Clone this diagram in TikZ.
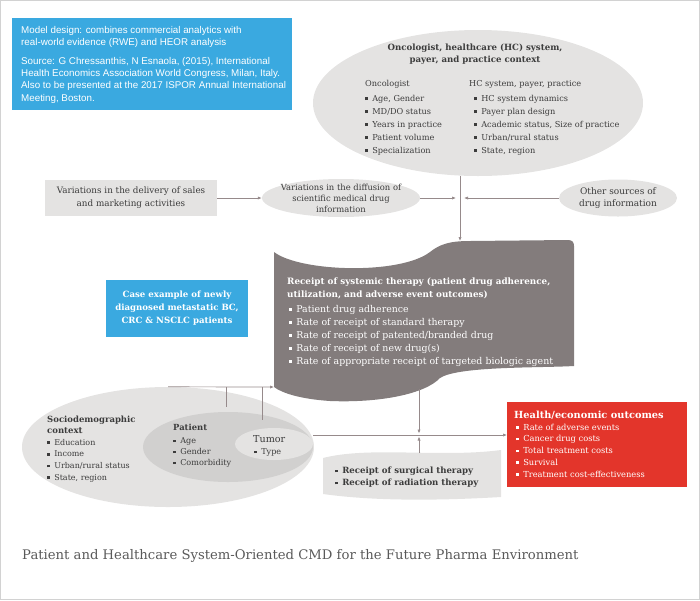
\documentclass[tikz,border=0pt]{standalone}
\usepackage{fontspec}
\setmainfont{DejaVu Serif}
\newfontfamily\notefont{Liberation Sans}
\usetikzlibrary{shapes.geometric,arrows.meta}

\definecolor{cmdblue}{RGB}{58,169,224}
\definecolor{cmdlight}{RGB}{228,227,226}
\definecolor{cmdmid}{RGB}{209,208,207}
\definecolor{cmddark}{RGB}{131,124,124}
\definecolor{cmdred}{RGB}{227,53,43}
\definecolor{cmdline}{RGB}{150,138,139}
\definecolor{cmdtext}{RGB}{60,60,60}
\definecolor{cmdborder}{RGB}{210,210,210}

\newcommand{\bsq}{\raisebox{1.4pt}{\rule{2.6pt}{2.6pt}}\hspace{4.5pt}}
\newcommand{\fsz}[2]{\fontsize{#1}{#2}\selectfont}

\tikzstyle{bluebox}=[fill=cmdblue,text=white,inner sep=0pt]
\tikzstyle{oval}=[ellipse,fill=cmdlight,inner sep=0pt]
\tikzstyle{txt}=[inner sep=0pt,align=left,text=cmdtext]
\tikzstyle{conn}=[draw=cmdline,line width=0.7pt,-{Latex[length=4pt,width=3.2pt]}]
\tikzstyle{link}=[draw=cmdline,line width=0.7pt]

\begin{document}
\begin{tikzpicture}[x=1pt,y=-1pt]
\useasboundingbox (0,0) rectangle (700,600);
\draw[cmdborder,line width=1pt] (0.5,0.5) rectangle (699.5,599.5);

% Model design note
   \node[bluebox,minimum width=280pt,minimum height=92pt,anchor=north west] (note) at (12,18) {};
   \node[txt,text=white,anchor=north west,font=\notefont\fsz{9.8}{12.4}] (notetxt) at (21,26)
{Model design: combines commercial analytics with\\ real-world evidence (RWE) and HEOR analysis\\[6pt]
Source: G Chressanthis, N Esnaola, (2015), International\\ Health Economics Association World Congress, Milan, Italy.\\
Also to be presented at the 2017 ISPOR Annual International\\ Meeting, Boston.};

% Oncologist / HC context
   \node[oval,minimum width=330pt,minimum height=146pt] (ctx) at (478,103) {};
   \node[txt,align=center,font=\bfseries\fsz{8.6}{12}] (ctxttl) at (475,54)
{Oncologist, healthcare (HC) system,\\ payer, and practice context};
   \node[txt,anchor=north west,font=\fsz{8.2}{13}] (onc) at (365,80) {Oncologist};
   \node[txt,anchor=north west,font=\fsz{8.2}{13}] (oncl) at (365,95)
{\bsq Age, Gender\\ \bsq MD/DO status\\ \bsq Years in practice\\ \bsq Patient volume\\ \bsq Specialization};
   \node[txt,anchor=north west,font=\fsz{8.2}{13}] (hcs) at (469,80) {HC system, payer, practice};
   \node[txt,anchor=north west,font=\fsz{8.2}{13}] (hcsl) at (474,95)
{\bsq HC system dynamics\\ \bsq Payer plan design\\ \bsq Academic status, Size of practice\\ \bsq Urban/rural status\\ \bsq State, region};

% Drug information sources
   \node[fill=cmdlight,minimum width=172pt,minimum height=36pt,inner sep=0pt,align=center,
text=cmdtext,font=\fsz{8.8}{13}] (sales) at (131,198)
{Variations in the delivery of sales\\ and marketing activities};
   \node[oval,minimum width=158pt,minimum height=38pt] (diff) at (341,198) {};
   \node[txt,align=center,font=\fsz{8.4}{11}] (difftxt) at (diff.center)
{Variations in the diffusion of\\ scientific medical drug\\ information};
   \node[oval,minimum width=118pt,minimum height=37pt] (other) at (618,198) {};
   \node[txt,align=center,font=\fsz{9}{12.5}] (othertxt) at (other.center)
{Other sources of\\ drug information};

   \coordinate (jn) at (460,198);
   \coordinate (jnl) at (456,198);
   \coordinate (jnr) at (464,198);

% Receipt of systemic therapy
   \fill[cmddark] (274,252) .. controls (300,272) and (400,275) .. (430,252)
.. controls (440,244) and (450,241) .. (470,241) -- (568,240)
.. controls (572,240) and (574,242) .. (574,246) -- (574,366)
.. controls (540,368) and (458,366) .. (440,378)
.. controls (425,394) and (380,403) .. (330,401)
.. controls (300,399) and (282,393) .. (274,387) -- cycle;
   \coordinate (rtop) at (460,241);
   \coordinate (rin) at (274,387);
   \coordinate (rbot) at (419,389);
   \node[txt,text=white,anchor=north west,font=\bfseries\fsz{8.8}{12.5}] (rst) at (287,278)
{Receipt of systemic therapy (patient drug adherence,\\ utilization, and adverse event outcomes)};
   \node[txt,text=white,anchor=north west,font=\fsz{9.4}{13}] (rstl) at (289,305)
{\bsq Patient drug adherence\\ \bsq Rate of receipt of standard therapy\\ \bsq Rate of receipt of patented/branded drug\\
\bsq Rate of receipt of new drug(s)\\ \bsq Rate of appropriate receipt of targeted biologic agent};

% Case example
   \node[bluebox,minimum width=142pt,minimum height=57pt,align=center,font=\bfseries\fsz{8.6}{13}] (case) at (177,308.5)
{Case example of newly\\ diagnosed metastatic BC,\\ CRC \& NSCLC patients};

% Patient contexts
   \node[oval,minimum width=292pt,minimum height=120pt] (soc) at (168,447) {};
   \node[oval,fill=cmdmid,minimum width=170pt,minimum height=70pt] (pat) at (228,447) {};
   \node[oval,minimum width=78pt,minimum height=32pt] (tum) at (274,444) {};
   \node[txt,anchor=north west,font=\bfseries\fsz{8.5}{11}] (soct) at (47,416) {Sociodemographic\\ context};
   \node[txt,anchor=north west,font=\fsz{8}{11.7}] (socl) at (47,439)
{\bsq Education\\ \bsq Income\\ \bsq Urban/rural status\\ \bsq State, region};
   \node[txt,anchor=north west,font=\bfseries\fsz{8.4}{11}] (patt) at (173,424) {Patient};
   \node[txt,anchor=north west,font=\fsz{8.1}{11}] (patl) at (173,437.5)
{\bsq Age\\ \bsq Gender\\ \bsq Comorbidity};
   \node[txt,anchor=north west,font=\fsz{9.6}{11}] (tumt) at (253,435.5) {Tumor};
   \node[txt,anchor=north west,font=\fsz{8.1}{11}] (tuml) at (254,448.5) {\bsq Type};

   \coordinate (sj1) at (226,387);
   \coordinate (sj1e) at (226,407);
   \coordinate (sj2) at (262,387);
   \coordinate (sj2e) at (262,420);
   \coordinate (oe) at (313,435);
   \coordinate (jbt) at (419,433.5);
   \coordinate (jbb) at (419,436.5);

% Surgical / radiation therapy
   \fill[cmdlight] (323,458) .. controls (370,446) and (440,458) .. (501,450) -- (501,497)
.. controls (450,500) and (380,502) .. (323,494) -- cycle;
   \coordinate (stop) at (419,453);
   \node[txt,anchor=north west,font=\bfseries\fsz{8.6}{12}] (surg) at (335,467)
{\bsq Receipt of surgical therapy\\ \bsq Receipt of radiation therapy};

% Outcomes
   \node[fill=cmdred,minimum width=180pt,minimum height=85pt,anchor=north west,inner sep=0pt] (hout) at (507,402) {};
   \node[txt,text=white,anchor=north west,font=\bfseries\fsz{9.8}{12}] (houtt) at (514,411) {Health/economic outcomes};
   \node[txt,text=white,anchor=north west,font=\fsz{8.3}{11.8}] (houtl) at (516,423.5)
{\bsq Rate of adverse events\\ \bsq Cancer drug costs\\ \bsq Total treatment costs\\ \bsq Survival\\ \bsq Treatment cost-effectiveness};

% Connectors
   \draw[conn] (sales.east) -- (diff.west);
   \draw[conn] (diff.east) -- (jnl);
   \draw[conn] (other.west) -- (jnr);
   \draw[conn] (ctx.south -| jn) -- (rtop);
   \draw[conn] (soc.north) -- (rin);
   \draw[link] (sj1) -- (sj1e);
   \draw[link] (sj2) -- (sj2e);
   \draw[conn] (oe) -- (oe -| hout.west);
   \draw[conn] (rbot) -- (jbt);
   \draw[conn] (stop) -- (jbb);

   \node[anchor=west,inner sep=0pt,text=cmdtext!85,font=\fsz{13.2}{15}] (title) at (22,556)
{Patient and Healthcare System-Oriented CMD for the Future Pharma Environment};

\end{tikzpicture}
\end{document}
